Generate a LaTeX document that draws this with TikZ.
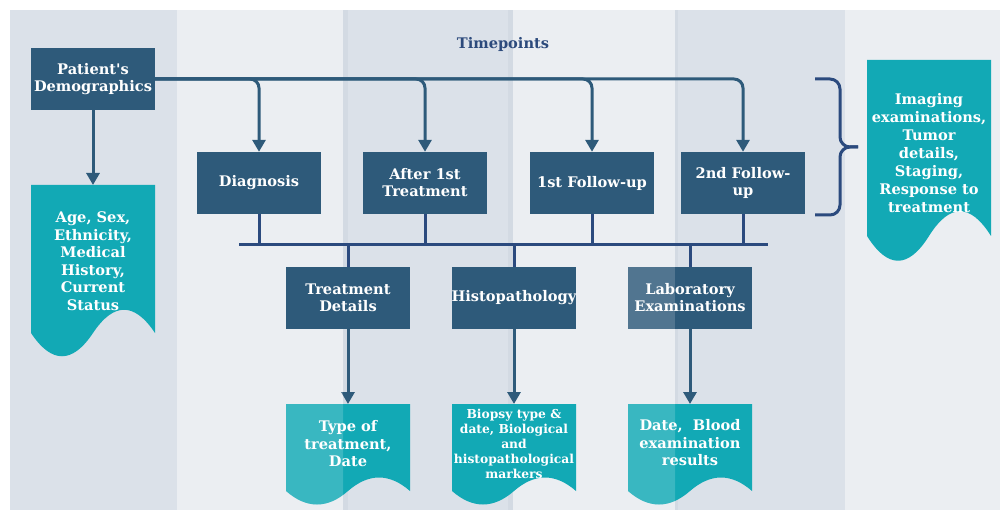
\documentclass[tikz,border=0pt]{standalone}
\usepackage{fontspec}
\setmainfont{DejaVu Serif}[Ligatures=TeXOff]
\usetikzlibrary{arrows.meta}
\definecolor{colDark}{RGB}{219,225,233}
\definecolor{colLight}{RGB}{235,238,242}
\definecolor{colEdge}{RGB}{211,218,227}
\definecolor{boxblue}{RGB}{46,90,122}
\definecolor{tealc}{RGB}{18,169,181}
\definecolor{navy}{RGB}{43,74,126}
\definecolor{titlec}{RGB}{44,74,124}
\tikzset{
  bx/.style={fill=boxblue, draw=none, minimum width=124pt, minimum height=62pt, inner sep=0pt,
    text=white, align=center, font=\bfseries\fontsize{14.6}{17}\selectfont,
    execute at begin node={\vspace*{4pt}}},
  doctext/.style={text=white, align=center, inner sep=0pt, font=\bfseries\fontsize{14.6}{17.5}\selectfont},
  arr/.style={draw=boxblue, line width=3pt, -{Triangle[width=13pt,length=12pt]}},
  busline/.style={draw=navy, line width=3pt},
  docfill/.style={fill=tealc, draw=none},
}
% document outline: #1 x0, #2 top, #3 width, #4 edge level, #5 amplitude
\newcommand{\docpath}[5]{(#1,#2) -- ({#1+#3},#2) -- ({#1+#3},#4)
    .. controls ({#1+5*#3/6},{#4-#5}) and ({#1+4*#3/6},{#4-#5}) .. ({#1+#3/2},#4)
    .. controls ({#1+2*#3/6},{#4+#5}) and ({#1+#3/6},{#4+#5}) .. (#1,#4) -- cycle}
\begin{document}
\begin{tikzpicture}[x=1pt,y=-1pt]
\useasboundingbox (0,0) rectangle (1000,510);
\fill[white] (0,0) rectangle (1000,510);
% columns
\fill[colDark] (10,10) rectangle (177,510);
\fill[colLight] (177,10) rectangle (343,510);
\fill[colDark] (343,10) rectangle (513,510);
\fill[colLight] (513,10) rectangle (675,510);
\fill[colDark] (675,10) rectangle (845,510);
\fill[colLight] (845,10) rectangle (1000,510);
\fill[colEdge] (343,10) rectangle (348,510);
\fill[colEdge] (508,10) rectangle (513,510);
\fill[colEdge] (675,10) rectangle (678,510);

\node[text=titlec, font=\bfseries\fontsize{14.6}{17}\selectfont] (title) at (503,44) {Timepoints};

% boxes
\node[bx] (pd) at (93,79) {Patient's\\Demographics};
\node[bx] (diag) at (259,183) {Diagnosis};
\node[bx] (aft) at (425,183) {After 1st\\Treatment};
\node[bx] (fu1) at (592,183) {1st Follow-up};
\node[bx] (fu2) at (743,183) {2nd Follow-\\up};
\node[bx] (trt) at (348,298) {Treatment\\Details};
\node[bx] (histo) at (514,298) {Histopathology};
\node[bx] (lab) at (690,298) {Laboratory\\Examinations};

% documents
\fill[docfill] \docpath{31}{185}{124}{333}{31};
\fill[docfill] \docpath{867}{60}{124}{236}{33};
\fill[docfill] \docpath{286}{404}{124}{491}{18};
\fill[docfill] \docpath{452}{404}{124}{491}{18};
\fill[docfill] \docpath{628}{404}{124}{491}{18};
\coordinate (agetop) at (93,185);
\coordinate (trttop) at (348,404);
\coordinate (histotop) at (514,404);
\coordinate (labtop) at (690,404);

% lower arrows
\draw[arr] (trt) -- (trttop);
\draw[arr] (histo) -- (histotop);
\draw[arr] (lab) -- (labtop);

% translucent overlay effect
\begin{scope}
  \clip (177,335) rectangle (343,510);
  \fill[white, opacity=0.17] \docpath{286}{404}{124}{491}{18};
  \fill[white, opacity=0.17] (341,380) rectangle (343,404);
\end{scope}
\begin{scope}
  \clip (600,255) rectangle (675,510);
  \fill[white, opacity=0.17] \docpath{628}{404}{124}{491}{18};
  \fill[white, opacity=0.17] (628,267) rectangle (675,329);
\end{scope}

\node[doctext] (agetxt) at (93,261) {Age, Sex,\\Ethnicity,\\Medical\\History,\\Current\\Status};
\node[doctext, font=\bfseries\fontsize{14.6}{18}\selectfont] (imgtxt) at (929,153) {Imaging\\examinations,\\Tumor\\details,\\Staging,\\Response to\\treatment};
\node[doctext] (trttxt) at (348,444) {Type of\\treatment,\\Date};
\node[doctext, font=\bfseries\fontsize{12.3}{15}\selectfont] (histotxt) at (514,444) {Biopsy type \&\\date, Biological\\and\\histopathological\\markers};
\node[doctext] (labtxt) at (690,443) {Date,\ \ Blood\\examination\\results};

% top connectors
\draw[arr] (pd) -- (agetop);
\draw[arr, rounded corners=9pt] (pd.east) -| (diag.north);
\draw[arr, rounded corners=9pt] (pd.east) -| (aft.north);
\draw[arr, rounded corners=9pt] (pd.east) -| (fu1.north);
\draw[arr, rounded corners=9pt] (pd.east) -| (fu2.north);

% bus
\coordinate (busL) at (239,245);
\coordinate (busR) at (768,245);
\draw[busline] (busL) -- (busR);
\foreach \n in {diag,aft,fu1,fu2}{\draw[busline] (\n.south) -- (\n.south |- busL);}
\foreach \n in {trt,histo,lab}{\draw[busline] (\n.north) -- (\n.north |- busL);}

% brace
\coordinate (brT) at (815,79);
\coordinate (brB) at (815,215);
\coordinate (brTip) at (858,147);
\draw[busline, rounded corners=10pt] (brT) -- (840,79) -- (840,147) -- (brTip);
\draw[busline, rounded corners=10pt] (brB) -- (840,215) -- (840,147) -- (brTip);
\end{tikzpicture}
\end{document}
